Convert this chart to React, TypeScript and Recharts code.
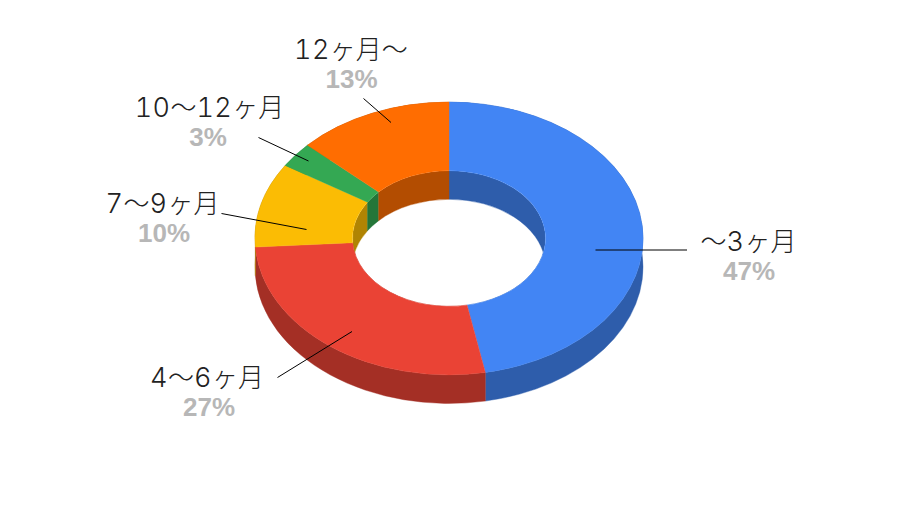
import { Pie, PieChart } from "recharts";

const categories = ["〜3ヶ月", "4〜6ヶ月", "7〜9ヶ月", "10〜12ヶ月", "12ヶ月〜"];
const shares = [47, 27, 10, 3, 13];
const topColors = ["#4285f4", "#ea4335", "#fbbc04", "#34a853", "#ff6d01"];
const wallColors = ["#2e5dab", "#a42f25", "#b08403", "#247639", "#b34d01"];

const data = categories.map((name, i) => ({ name, value: shares[i] }));
const topData = data.map((d, i) => ({ ...d, fill: topColors[i] }));
const wallData = data.map((d, i) => ({ ...d, fill: wallColors[i] }));

// the ring is a circle squashed in y, with a wall hanging below it
const SQUASH = 0.703;
const DEPTH = 28.6;

// label text centres and baselines, leader line
const labelSpots = [
  { x: 748.5, nameY: 251, pctX: 749, pctY: 280, line: [595.5, 250, 687, 250] },
  { x: 207, nameY: 387, pctX: 209, pctY: 416, line: [352, 331.5, 277.5, 377.5] },
  { x: 162.5, nameY: 213, pctX: 164, pctY: 242, line: [306.5, 229.5, 221.5, 213.5] },
  { x: 209.5, nameY: 117, pctX: 208, pctY: 146, line: [308.5, 161, 258.5, 137.5] },
  { x: 351, nameY: 59, pctX: 351.5, pctY: 88, line: [391, 122.5, 363.5, 98.5] },
];

const RAD = Math.PI / 180;

function pt(cx: number, cy: number, r: number, deg: number, dy = 0) {
  const x = cx + r * Math.cos(deg * RAD);
  const y = cy - r * SQUASH * Math.sin(deg * RAD) + dy;
  return `${x.toFixed(2)} ${y.toFixed(2)}`;
}

function arcTo(r: number, from: number, to: number, sweep: number, end: string) {
  const large = Math.abs(to - from) > 180 ? 1 : 0;
  return `A ${r} ${r * SQUASH} 0 ${large} ${sweep} ${end}`;
}

function band(cx: number, cy: number, r: number, a: number, b: number) {
  return [
    `M ${pt(cx, cy, r, a)}`,
    arcTo(r, a, b, 1, pt(cx, cy, r, b)),
    `L ${pt(cx, cy, r, b, DEPTH)}`,
    arcTo(r, b, a, 0, pt(cx, cy, r, a, DEPTH)),
    "Z",
  ].join(" ");
}

function TopFace(props: any) {
  const { cx, cy, innerRadius: ri, outerRadius: ro, startAngle: a, endAngle: b, fill } = props;
  const d = [
    `M ${pt(cx, cy, ro, a)}`,
    arcTo(ro, a, b, 1, pt(cx, cy, ro, b)),
    `L ${pt(cx, cy, ri, b)}`,
    arcTo(ri, b, a, 0, pt(cx, cy, ri, a)),
    "Z",
  ].join(" ");
  return <path d={d} fill={fill} stroke={fill} strokeWidth={0.4} />;
}

function Walls(props: any) {
  const { cx, cy, innerRadius: ri, outerRadius: ro, startAngle: a, endAngle: b, fill, index } = props;
  const id = `hole-${index}`;
  return (
    <g>
      <clipPath id={id}>
        <ellipse cx={cx} cy={cy} rx={ri} ry={ri * SQUASH} />
      </clipPath>
      <path d={band(cx, cy, ro, a, b)} fill={fill} stroke={fill} strokeWidth={0.4} />
      <path d={band(cx, cy, ri, a, b)} fill={fill} stroke={fill} strokeWidth={0.4} clipPath={`url(#${id})`} />
    </g>
  );
}

// digits are wider and lighter in the original than the CJK font's own
function nameParts(name: string) {
  return name.split(/(\d+)/).filter(Boolean).map((part, i) =>
    /\d/.test(part) ? (
      <tspan
        key={i}
        fontFamily="Inter, sans-serif"
        fontWeight={300}
        fontSize={27}
        letterSpacing={0.4}
        style={{ fontFeatureSettings: "'tnum'" }}
      >
        {part}
      </tspan>
    ) : (
      <tspan key={i}>{part}</tspan>
    )
  );
}

function SliceLabel(props: any) {
  const { index, name, percent } = props;
  const spot = labelSpots[index];
  const [x1, y1, x2, y2] = spot.line;
  return (
    <g>
      <line x1={x1} y1={y1} x2={x2} y2={y2} stroke="#000" strokeWidth={1} />
      <text
        x={spot.x}
        y={spot.nameY}
        textAnchor="middle"
        fontFamily="'Noto Sans CJK JP', sans-serif"
        fontWeight={300}
        fontSize={26}
        fill="#222222"
      >
        {nameParts(name)}
      </text>
      <text
        x={spot.pctX}
        y={spot.pctY}
        textAnchor="middle"
        fontFamily="'Liberation Sans', Arial, sans-serif"
        fontWeight="bold"
        fontSize={26}
        fill="#b7b7b7"
      >
        {`${Math.round(percent * 100)}%`}
      </text>
    </g>
  );
}

export default function App() {
  return (
    <div style={{ position: "absolute", left: 0, top: 0, width: 900, height: 506, background: "#fff" }}>
      <PieChart width={900} height={506} margin={{ top: 0, right: 0, bottom: 0, left: 0 }}>
        <Pie
          data={wallData}
          dataKey="value"
          nameKey="name"
          cx={449}
          cy={238.5}
          innerRadius={96.5}
          outerRadius={194}
          startAngle={90}
          endAngle={-270}
          stroke="none"
          shape={Walls}
          inactiveShape={Walls}
          label={false}
          labelLine={false}
          isAnimationActive={false}
        />
        <Pie
          data={topData}
          dataKey="value"
          nameKey="name"
          cx={449}
          cy={238.5}
          innerRadius={96.5}
          outerRadius={194}
          startAngle={90}
          endAngle={-270}
          stroke="none"
          shape={TopFace}
          inactiveShape={TopFace}
          label={SliceLabel}
          labelLine={false}
          isAnimationActive={false}
        />
      </PieChart>
    </div>
  );
}
